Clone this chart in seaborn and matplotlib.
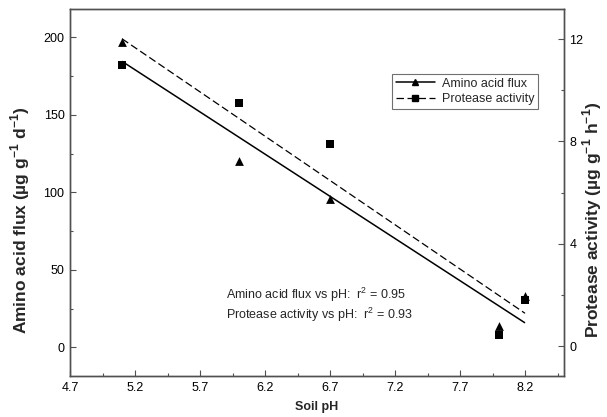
import numpy as np
import pandas as pd
import matplotlib
matplotlib.use("Agg")
import matplotlib.pyplot as plt
from matplotlib.lines import Line2D
from matplotlib.ticker import MultipleLocator, FixedLocator
import seaborn as sns

# ---- data ----
soil_ph = [5.1, 6.0, 6.7, 8.0, 8.2]
amino_acid_flux = [197, 120, 96, 14, 33]          # left axis, ug g-1 d-1
protease_activity = [11.0, 9.5, 7.9, 0.45, 1.8]    # right axis, ug g-1 h-1
x_ticks = [4.7, 5.2, 5.7, 6.2, 6.7, 7.2, 7.7, 8.2]
left_ticks = [0, 50, 100, 150, 200]
right_ticks = [0, 4, 8, 12]
r2_amino = 0.95
r2_protease = 0.93

df = pd.DataFrame({"ph": soil_ph, "amino": amino_acid_flux, "protease": protease_activity})

sns.set_style("ticks")
plt.rcParams["font.family"] = ["Liberation Sans", "DejaVu Sans"]
plt.rcParams["mathtext.fontset"] = "custom"
plt.rcParams["mathtext.rm"] = "Liberation Sans"
plt.rcParams["mathtext.bf"] = "Liberation Sans:bold"

fig = plt.figure(figsize=(6.07, 4.17), dpi=100)
ax = fig.add_axes([70/607, 1-376/417, (564-70)/607, (376-9)/417])
ax2 = ax.twinx()

spine_col = "#505050"

# regression lines
sns.regplot(data=df, x="ph", y="amino", ax=ax, scatter=False, ci=None, truncate=True,
            color="black", line_kws={"lw": 1.1, "solid_capstyle": "butt"})
sns.regplot(data=df, x="ph", y="protease", ax=ax2, scatter=False, ci=None, truncate=True,
            color="black", line_kws={"lw": 0.9, "ls": (0, (6, 2.8))})

# points
sns.scatterplot(data=df, x="ph", y="amino", ax=ax, marker="^", s=40, color="black",
                edgecolor="black", linewidth=0, zorder=5)
sns.scatterplot(data=df, x="ph", y="protease", ax=ax2, marker="s", s=30, color="black",
                edgecolor="black", linewidth=0, zorder=5)

ax.set_xlim(4.7, 8.5)
ax.set_ylim(-18.4, 218.2)
ax2.set_ylim(-1.17, 13.18)

ax.xaxis.set_major_locator(FixedLocator(x_ticks))
ax.set_xticklabels([f"{t:.1f}" for t in x_ticks])
ax.xaxis.set_minor_locator(FixedLocator([t + 0.25 for t in x_ticks]))
ax.yaxis.set_major_locator(FixedLocator(left_ticks))
ax.set_yticklabels([str(t) for t in left_ticks])
ax.yaxis.set_minor_locator(MultipleLocator(25))
ax2.yaxis.set_major_locator(FixedLocator(right_ticks))
ax2.set_yticklabels([str(t) for t in right_ticks])
ax2.yaxis.set_minor_locator(MultipleLocator(2))

for a in (ax, ax2):
    for s in a.spines.values():
        s.set_visible(True)
        s.set_color(spine_col)
        s.set_linewidth(1.0)
    a.tick_params(which="major", direction="in", length=4, width=0.8, color=spine_col,
                  labelsize=9, labelcolor="black", pad=4)
    a.tick_params(which="minor", direction="in", length=2.5, width=0.8, color=spine_col)
ax.tick_params(axis="x", pad=4)

ax.set_xlabel("Soil pH", fontsize=9, fontweight="bold")
ax.xaxis.set_label_coords(0.5, -0.0845)
ax.xaxis.label.set_va("center")

ax.set_ylabel("Amino acid flux (\u00b5g g$^{\\mathbf{-1}}$ d$^{\\mathbf{-1}}$)", fontsize=12.5, fontweight="bold")
ax.yaxis.set_label_coords(-0.101, 0.425)
ax.yaxis.label.set_va("center")
ax2.set_ylabel("Protease activity (\u00b5g g$^{\\mathbf{-1}}$ h$^{\\mathbf{-1}}$)", fontsize=12.5, fontweight="bold",
               rotation=90)
ax2.yaxis.set_label_coords(1.057, 0.425)
ax2.yaxis.label.set_va("center")

# annotations
ax.text(0.316, 0.221, f"Amino acid flux vs pH:  r$^2$ = {r2_amino:.2f}", transform=ax.transAxes,
        fontsize=9, va="center", ha="left")
ax.text(0.316, 0.166, f"Protease activity vs pH:  r$^2$ = {r2_protease:.2f}", transform=ax.transAxes,
        fontsize=9, va="center", ha="left")

# legend
handles = [
    Line2D([], [], color="black", lw=1.1, marker="^", markersize=5),
    Line2D([], [], color="black", lw=0.9, ls=(0, (6, 2.8)), marker="s", markersize=5),
]
leg = ax2.legend(handles, ["Amino acid flux", "Protease activity"], loc="upper left",
                 bbox_to_anchor=(0.652, 0.823), borderaxespad=0, fontsize=9,
                 frameon=True, fancybox=False, framealpha=1, edgecolor="#707070",
                 handlelength=3.1, handletextpad=0.6, borderpad=0.3, labelspacing=0.3)
leg.get_frame().set_linewidth(0.8)

fig.savefig("out.png", dpi=100)
